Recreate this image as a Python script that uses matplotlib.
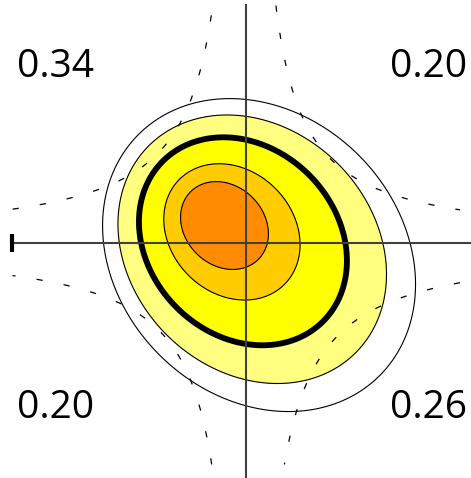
import numpy as np
import matplotlib
matplotlib.use("Agg")
import matplotlib.pyplot as plt

# --- Données (unité = 100 px, origine au croisement des axes) ---
# rayons des contours, du plus intérieur au plus extérieur
niveaux_t = [0.435, 0.675, 1.03, 1.33, 1.55]
couleurs = ["#FF8C00", "#FFCC00", "#FFFF00", "#FFFF80"]   # orange -> jaune pâle
mode = [-0.35, 0.29]          # position du pic
derive = [0.31, -0.265]       # décalage du centre par unité de rayon
demi_axes = [1.1, 0.91]       # axe NO-SE, axe NE-SO
# constantes |x*y| des courbes pointillées : HG, HD, BG, BD
hyper_c = [0.79, 0.71, 0.76, 0.85]
probas = ["0.34", "0.20", "0.20", "0.26"]

x_lim = (-2.46, 2.25)
y_lim = (-2.35, 2.43)
# zone couverte par les pointillés
zone_x = (-2.34, 2.14)
zone_y = (-2.22, 2.38)

# --- Champ de densité ---
x = np.linspace(x_lim[0], x_lim[1], 600)
y = np.linspace(y_lim[0], y_lim[1], 600)
X, Y = np.meshgrid(x, y)

u1 = np.array([1.0, -1.0]) / np.sqrt(2)
u2 = np.array([1.0, 1.0]) / np.sqrt(2)
S = demi_axes[0] ** 2 * np.outer(u1, u1) + demi_axes[1] ** 2 * np.outer(u2, u2)
M = np.linalg.inv(S)
d = np.array(derive)

wx = X - mode[0]
wy = Y - mode[1]
wMw = M[0, 0] * wx ** 2 + 2 * M[0, 1] * wx * wy + M[1, 1] * wy ** 2
Md = M @ d
dMw = Md[0] * wx + Md[1] * wy
dMd = d @ Md
T = (-dMw + np.sqrt(dMw ** 2 + (1 - dMd) * wMw)) / (1 - dMd)
Z = np.exp(-T ** 2 / 2)

niv = np.exp(-np.array(niveaux_t) ** 2 / 2)   # décroissant

# --- Graphique ---
fig = plt.figure(figsize=(4.71, 4.78), dpi=100)
ax = fig.add_axes([0, 0, 1, 1])
ax.set_xlim(*x_lim)
ax.set_ylim(*y_lim)
ax.axis("off")

bornes = [niv[3], niv[2], niv[1], niv[0], 1.01]
ax.contourf(X, Y, Z, levels=bornes, colors=couleurs[::-1])
ax.contour(X, Y, Z, levels=[niv[4], niv[3], niv[1], niv[0]],
           colors="black", linewidths=0.8)
ax.contour(X, Y, Z, levels=[niv[2]], colors="black", linewidths=4.2)

# courbes pointillées (une constante par quadrant)
C = np.where(Y >= 0, np.where(X < 0, hyper_c[0], hyper_c[1]),
             np.where(X < 0, hyper_c[2], hyper_c[3]))
H = np.abs(X * Y) / C
hors = (X < zone_x[0]) | (X > zone_x[1]) | (Y < zone_y[0]) | (Y > zone_y[1])
H = np.ma.masked_where(hors, H)
cs = ax.contour(X, Y, H, levels=[1.0], colors="black", linewidths=0.9)
cs.set_linestyle((0, (5, 17)))

# axes
x_gauche = x_lim[0] + 12 / 100
ax.axhline(0, xmin=12 / 471, color="#404040", lw=1.5)
ax.axvline(0, ymax=1 - 5 / 478, color="#404040", lw=1.5)
ax.plot([x_gauche], [0], marker="|", ms=13, mew=3, color="black")

# probabilités des quadrants
police = dict(fontsize=28, family=["Open Sans", "DejaVu Sans"], color="black")
ax.text(-2.29, 1.66, probas[0], ha="left", va="baseline", **police)
ax.text(2.21, 1.66, probas[1], ha="right", va="baseline", **police)
ax.text(-2.29, -1.75, probas[2], ha="left", va="baseline", **police)
ax.text(2.21, -1.75, probas[3], ha="right", va="baseline", **police)

fig.savefig("out.png", dpi=100)
